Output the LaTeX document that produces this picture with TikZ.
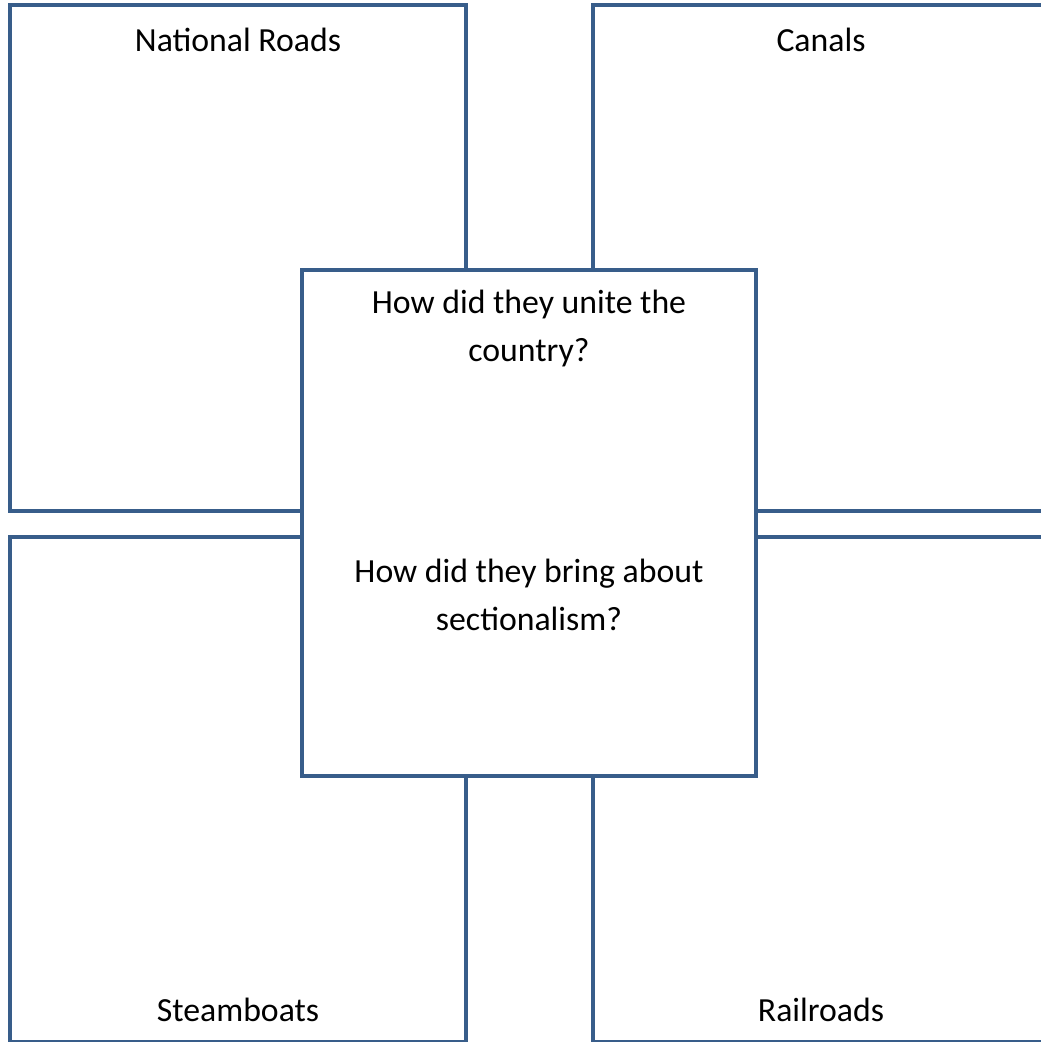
\documentclass[tikz,border=0pt]{standalone}
\usepackage{fontspec}
\setmainfont{Carlito}
\usepackage{tikz}
\usetikzlibrary{positioning}

\definecolor{boxblue}{RGB}{56,93,138}

\begin{document}
\begin{tikzpicture}[
  x=0.025cm, y=-0.025cm,
  box/.style={draw=boxblue, line width=0.08cm, fill=white, inner sep=0pt,
              minimum width=11.4cm, minimum height=12.65cm},
  lbl/.style={font=\fontsize{24}{30}\selectfont, anchor=base},
  ask/.style={font=\fontsize{24}{34}\selectfont, align=center, anchor=north}
]
\useasboundingbox (0,0) rectangle (1041,1042);
\clip (0,0) rectangle (1041,1042);

% Outer boxes
\node[box] (roads) at (238,258) {};
\node[box] (canals) at (821,258) {};
\node[box, minimum height=12.61cm] (steam) at (238,789.25) {};
\node[box, minimum height=12.61cm] (rail) at (821,789.25) {};

% Centre box on top
\node[box, minimum width=11.35cm] (centre) at (529,523) {};

% Labels
\node[lbl] (troads) at (238,51) {National Roads};
\node[lbl] (tcanals) at (821,51) {Canals};
\node[lbl] (tsteam) at (238,1021) {Steamboats};
\node[lbl] (trail) at (821,1021) {Railroads};

% Questions
\node[ask] (unite) at (529,285) {How did they unite the\\country?};
\node[ask] (section) at (529,554) {How did they bring about\\sectionalism?};

\end{tikzpicture}
\end{document}
